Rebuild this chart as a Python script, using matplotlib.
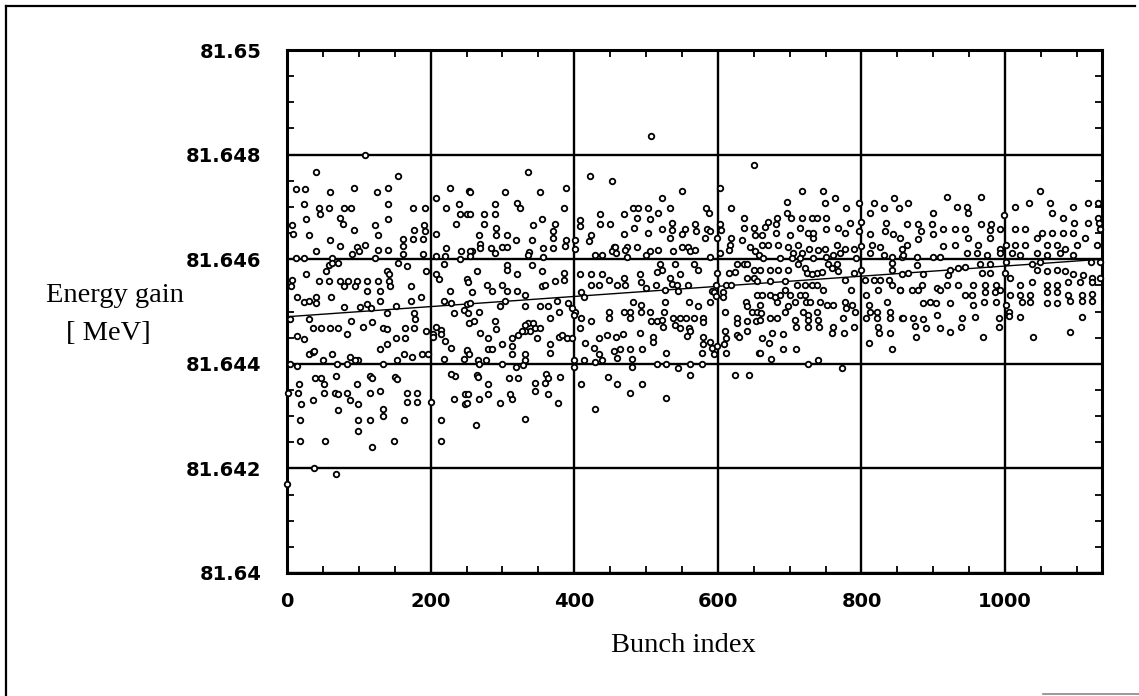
import numpy as np
import matplotlib
matplotlib.use("Agg")
import matplotlib.pyplot as plt
from matplotlib import font_manager
from matplotlib.lines import Line2D

# (bunch index, energy gain [MeV]), in five slices along x
pts_0_255 = [
    (0, 81.6417), (38, 81.6420), (68, 81.6419), (108, 81.6480),
    (40, 81.64767), (155, 81.6476), (13, 81.64735), (25, 81.64735), (60, 81.64728), (94, 81.64737),
    (126, 81.64729), (140, 81.64737), (23, 81.64705), (45, 81.64697), (58, 81.64697), (46, 81.64686),
    (79, 81.64697), (89, 81.64697), (140, 81.64705), (175, 81.64698), (192, 81.64697),
    (27, 81.64677), (7, 81.64665), (8, 81.64648), (31, 81.64647), (74, 81.64679), (78, 81.64668),
    (94, 81.64655), (122, 81.64665), (127, 81.64646), (140, 81.64677), (60, 81.64636), (74, 81.64625),
    (98, 81.64623), (108, 81.64627), (127, 81.64617), (140, 81.64617), (40, 81.64616),
    (177, 81.64655), (191, 81.64665), (192, 81.64654), (161, 81.64638), (175, 81.64638), (189, 81.64638),
    (161, 81.64625), (162, 81.64609), (90, 81.64609), (100, 81.64616), (13, 81.64602), (24, 81.64602),
    (62, 81.64602), (122, 81.64602), (189, 81.64609), (58, 81.64589), (62, 81.64592), (71, 81.64592),
    (55, 81.64578), (139, 81.64578), (142, 81.64572), (155, 81.64592), (167, 81.64587),
    (27, 81.64571), (45, 81.64559), (58, 81.64559), (74, 81.64559), (85, 81.64559), (97, 81.64559),
    (111, 81.64559), (127, 81.64559), (142, 81.64559), (7, 81.6456), (6, 81.64549), (79, 81.64549),
    (95, 81.64549), (111, 81.6454), (130, 81.6454), (143, 81.64549), (173, 81.64549), (193, 81.64578),
    (14, 81.64527), (23, 81.64519), (30, 81.6452), (40, 81.64527), (41, 81.64516), (61, 81.64527),
    (79, 81.64509), (111, 81.64514), (102, 81.64508), (117, 81.64506), (130, 81.64521), (139, 81.64498),
    (152, 81.64511), (172, 81.6452), (186, 81.64527), (177, 81.64498), (178, 81.64486),
    (4, 81.64486), (31, 81.64486), (36, 81.64469), (47, 81.64469), (60, 81.64469), (71, 81.64469),
    (84, 81.64457), (89, 81.64481), (106, 81.6447), (118, 81.6448), (134, 81.64469), (139, 81.64467),
    (152, 81.64449), (164, 81.64449), (164, 81.64469), (177, 81.64469), (14, 81.64454), (23, 81.64448),
    (194, 81.64463), (204, 81.64457), (208, 81.6447), (215, 81.64465), (139, 81.64438), (130, 81.64429),
    (30, 81.64419), (36, 81.64422), (37, 81.64425), (62, 81.64419), (50, 81.64408), (99, 81.64408),
    (88, 81.64413), (69, 81.644), (83, 81.64399), (95, 81.64408), (134, 81.64399), (153, 81.64408),
    (163, 81.64419), (174, 81.64413), (188, 81.64419), (196, 81.64419), (4, 81.644), (14, 81.64395),
    (39, 81.64373), (48, 81.64373), (51, 81.64362), (68, 81.64376), (116, 81.64376), (118, 81.64372),
    (151, 81.64375), (153, 81.6437), (17, 81.64362), (97, 81.64362), (2, 81.64344), (16, 81.64344),
    (19, 81.64324), (36, 81.64331), (52, 81.64344), (67, 81.64344), (71, 81.64343), (88, 81.6433),
    (84, 81.64345), (99, 81.64324), (116, 81.64344), (130, 81.64348), (71, 81.64312), (167, 81.64344),
    (167, 81.64327), (181, 81.64344), (181, 81.64327), (200, 81.64327), (18, 81.64293), (99, 81.64293),
    (116, 81.64293), (133, 81.64314), (133, 81.64301), (163, 81.64293), (99, 81.64272), (18, 81.64253),
    (53, 81.64253), (119, 81.64241), (149, 81.64253),
    (227, 81.64737), (253, 81.6473), (208, 81.64717), (221, 81.64698), (239, 81.64706), (241, 81.64686),
    (236, 81.64667), (250, 81.64686), (208, 81.64648), (222, 81.64622), (243, 81.64616), (208, 81.64606),
    (220, 81.64606), (218, 81.6459), (241, 81.646), (208, 81.64571), (211, 81.64562), (227, 81.6454),
    (250, 81.64562), (218, 81.64521), (229, 81.64517), (232, 81.64498), (246, 81.64502), (250, 81.64514),
    (204, 81.64451), (215, 81.64457), (220, 81.64444), (229, 81.6443), (246, 81.64409), (250, 81.64425),
    (218, 81.64409), (234, 81.64376), (229, 81.64381), (232, 81.64333), (248, 81.64343), (248, 81.64324),
    (215, 81.64293), (215, 81.64253),
]

pts_250_457 = [
    (335, 81.64767), (422, 81.64759), (452, 81.64749), (255, 81.64729), (303, 81.64729), (352, 81.64729),
    (388, 81.64737), (289, 81.64705), (321, 81.64707), (325, 81.64697), (386, 81.64697), (255, 81.64686),
    (274, 81.64686), (289, 81.64686), (355, 81.64677), (275, 81.64667), (291, 81.64659), (291, 81.64646),
    (342, 81.64665), (373, 81.64667), (370, 81.64654), (408, 81.64675), (408, 81.64664), (436, 81.64686),
    (450, 81.64667), (436, 81.64667), (267, 81.64646), (269, 81.6463), (258, 81.64615), (307, 81.64646),
    (319, 81.64637), (341, 81.64637), (370, 81.6464), (388, 81.64637), (401, 81.64637), (424, 81.64646),
    (421, 81.64634), (455, 81.64624), (269, 81.64622), (284, 81.64622), (300, 81.64624), (307, 81.64624),
    (289, 81.64611), (337, 81.64613), (356, 81.64622), (370, 81.64622), (387, 81.64626), (401, 81.6462),
    (335, 81.64608), (341, 81.64589), (357, 81.64605), (255, 81.64615), (255, 81.64606), (429, 81.64608),
    (438, 81.64608), (452, 81.64615), (307, 81.64589), (307, 81.6458), (321, 81.64571), (264, 81.64578),
    (355, 81.64578), (408, 81.64571), (423, 81.64571), (438, 81.64571), (449, 81.6456), (373, 81.64559),
    (386, 81.64573), (386, 81.6456), (424, 81.64551), (434, 81.64551), (252, 81.64557), (278, 81.64551),
    (285, 81.6454), (299, 81.64551), (306, 81.6454), (321, 81.6454), (258, 81.64538), (355, 81.64548),
    (359, 81.64551), (332, 81.64531), (410, 81.64538), (413, 81.64527), (255, 81.64516), (252, 81.64497),
    (267, 81.645), (297, 81.6451), (304, 81.6452), (332, 81.6451), (352, 81.6451), (364, 81.6451),
    (376, 81.6452), (379, 81.645), (392, 81.64516), (401, 81.645), (254, 81.64478), (260, 81.64481),
    (290, 81.64481), (291, 81.64467), (336, 81.64478), (343, 81.64478), (345, 81.64468), (352, 81.64468),
    (338, 81.64462), (331, 81.64463), (366, 81.64488), (397, 81.64507), (400, 81.64493), (410, 81.64488),
    (408, 81.64469), (424, 81.64481), (448, 81.645), (448, 81.64488), (269, 81.64459), (280, 81.6445),
    (300, 81.64437), (313, 81.6445), (313, 81.64434), (313, 81.64419), (322, 81.64456), (327, 81.64463),
    (332, 81.64475), (348, 81.6445), (366, 81.64437), (366, 81.6442), (379, 81.64451), (383, 81.64456),
    (390, 81.6445), (397, 81.6445), (415, 81.64439), (427, 81.64431), (434, 81.64449), (445, 81.64456),
    (435, 81.64418), (439, 81.64408), (455, 81.64424), (250, 81.64427), (253, 81.64418), (280, 81.64429),
    (285, 81.64429), (331, 81.64419), (332, 81.64408), (266, 81.64408), (277, 81.64408), (267, 81.644),
    (299, 81.644), (319, 81.64394), (328, 81.64398), (399, 81.64408), (399, 81.64393), (413, 81.64408),
    (429, 81.64404), (264, 81.64378), (266, 81.64375), (280, 81.64361), (309, 81.64373), (322, 81.64373),
    (346, 81.64363), (360, 81.6438), (364, 81.64373), (359, 81.64363), (346, 81.64348), (364, 81.64343),
    (380, 81.64375), (410, 81.64362), (447, 81.64375), (252, 81.64343), (250, 81.64325), (267, 81.64333),
    (280, 81.64343), (297, 81.64325), (314, 81.64333), (311, 81.64343), (378, 81.64325), (429, 81.64313),
    (331, 81.64294), (263, 81.64283),
]

pts_457_660 = [
    (507, 81.64836), (550, 81.6473), (603, 81.64737), (651, 81.6478), (522, 81.64717),
    (469, 81.64686), (482, 81.64698), (489, 81.64698), (503, 81.64698), (533, 81.64698), (584, 81.64698),
    (588, 81.64688), (618, 81.64698), (488, 81.64678), (505, 81.64677), (517, 81.64688), (636, 81.64678),
    (470, 81.64648), (483, 81.64659), (503, 81.6465), (522, 81.64658), (536, 81.64669), (536, 81.64656),
    (554, 81.64658), (568, 81.64667), (570, 81.64654), (585, 81.64658), (589, 81.64653), (603, 81.64667),
    (604, 81.64656), (636, 81.64659), (650, 81.64659), (652, 81.64646), (533, 81.6464), (550, 81.64648),
    (582, 81.6464), (599, 81.6464), (619, 81.6464), (617, 81.64627), (633, 81.64637), (457, 81.64624),
    (473, 81.64624), (488, 81.64624), (458, 81.64611), (471, 81.64618), (473, 81.64605), (500, 81.64608),
    (505, 81.64615), (517, 81.64618), (538, 81.64615), (550, 81.64624), (558, 81.64624), (561, 81.64615),
    (568, 81.64618), (589, 81.64605), (603, 81.64611), (615, 81.64618), (645, 81.64624), (652, 81.64615),
    (657, 81.64608), (520, 81.6459), (541, 81.6459), (522, 81.64579), (515, 81.64576), (567, 81.6459),
    (572, 81.6458), (626, 81.6459), (636, 81.6459), (640, 81.6459), (650, 81.6458), (615, 81.64573),
    (624, 81.64576), (459, 81.64551), (469, 81.64564), (471, 81.64551), (492, 81.64571), (493, 81.64557),
    (500, 81.64545), (514, 81.64551), (527, 81.64542), (534, 81.64564), (536, 81.64552), (543, 81.64551),
    (547, 81.64571), (558, 81.64551), (545, 81.6454), (599, 81.64573), (598, 81.64551), (612, 81.64551),
    (619, 81.64551), (640, 81.64564), (650, 81.64564), (592, 81.6454), (595, 81.64537), (607, 81.64537),
    (607, 81.64527), (589, 81.64519), (598, 81.64529), (654, 81.64532), (482, 81.64519), (493, 81.64513),
    (478, 81.645), (493, 81.645), (506, 81.645), (527, 81.64519), (525, 81.645), (560, 81.64519),
    (573, 81.6451), (610, 81.645), (639, 81.64519), (641, 81.6451), (647, 81.645), (654, 81.645),
    (469, 81.645), (478, 81.64488), (507, 81.64481), (515, 81.64481), (522, 81.64484), (524, 81.6447),
    (538, 81.64488), (547, 81.64488), (556, 81.64488), (567, 81.64488), (580, 81.64488), (580, 81.6448),
    (540, 81.64475), (547, 81.64469), (560, 81.64469), (557, 81.64453), (561, 81.64462), (626, 81.64488),
    (627, 81.64478), (641, 81.64481), (653, 81.64481), (626, 81.64456), (629, 81.64451), (640, 81.64462),
    (610, 81.64462), (612, 81.6445), (458, 81.64451), (468, 81.64457), (492, 81.64459), (510, 81.64451),
    (510, 81.64442), (580, 81.64451), (579, 81.64438), (589, 81.64442), (592, 81.6443), (599, 81.64434),
    (464, 81.64429), (478, 81.64429), (494, 81.64429), (528, 81.6442), (578, 81.6442), (594, 81.64419),
    (608, 81.64437), (612, 81.6442), (657, 81.6442), (459, 81.64411), (480, 81.6441), (480, 81.64394),
    (515, 81.644), (528, 81.644), (545, 81.64392), (561, 81.644), (578, 81.644), (561, 81.64378),
    (624, 81.64378), (643, 81.64378), (460, 81.64362), (494, 81.64362), (478, 81.64345), (528, 81.64334),
]

pts_660_860 = [
    (717, 81.6473), (747, 81.6473), (763, 81.64717), (749, 81.64707), (697, 81.64709), (778, 81.64698),
    (797, 81.64707), (812, 81.64688), (818, 81.64707), (832, 81.64698), (846, 81.64717), (852, 81.64698),
    (697, 81.64689), (702, 81.64679), (717, 81.64679), (731, 81.64679), (738, 81.64679), (750, 81.64679),
    (670, 81.64672), (683, 81.64678), (666, 81.64662), (681, 81.64667), (715, 81.64659), (726, 81.6465),
    (732, 81.6464), (733, 81.6465), (750, 81.64658), (768, 81.64659), (777, 81.6465), (784, 81.64669),
    (796, 81.64653), (800, 81.64672), (812, 81.64648), (833, 81.64653), (834, 81.64669), (844, 81.64648),
    (854, 81.6464), (661, 81.64646), (681, 81.6465), (701, 81.64646), (670, 81.64627), (684, 81.64627),
    (661, 81.64627), (698, 81.64624), (712, 81.64627), (727, 81.6462), (740, 81.64617), (749, 81.6462),
    (766, 81.64627), (777, 81.6462), (789, 81.6462), (800, 81.64625), (814, 81.64627), (826, 81.64624),
    (856, 81.6462), (705, 81.64611), (717, 81.64611), (750, 81.64605), (761, 81.64608), (770, 81.64611),
    (812, 81.64611), (831, 81.64608), (842, 81.64605), (856, 81.64605), (663, 81.64602), (687, 81.64602),
    (703, 81.64602), (714, 81.64603), (733, 81.64602), (793, 81.64602), (712, 81.6459), (722, 81.64583),
    (724, 81.64573), (738, 81.64573), (754, 81.6459), (766, 81.6459), (767, 81.64577), (759, 81.64583),
    (673, 81.6458), (684, 81.6458), (698, 81.6458), (659, 81.6458), (731, 81.64571), (745, 81.64576),
    (842, 81.64592), (843, 81.6458), (856, 81.64571), (777, 81.6456), (789, 81.64573), (800, 81.6458),
    (805, 81.6456), (817, 81.6456), (826, 81.6456), (838, 81.6456), (694, 81.64559), (710, 81.64551),
    (722, 81.64551), (731, 81.64551), (738, 81.64551), (654, 81.64559), (673, 81.64559), (694, 81.64542),
    (747, 81.64542), (786, 81.64542), (823, 81.64542), (842, 81.64551), (854, 81.64542), (661, 81.64532),
    (673, 81.64532), (687, 81.64532), (701, 81.64532), (714, 81.64532), (722, 81.64532), (682, 81.64519),
    (680, 81.64527), (698, 81.6451), (708, 81.64519), (723, 81.64519), (728, 81.64519), (742, 81.64519),
    (752, 81.64513), (761, 81.64513), (777, 81.64519), (778, 81.64507), (787, 81.64513), (791, 81.645),
    (807, 81.64532), (810, 81.64513), (812, 81.645), (835, 81.64519), (840, 81.645), (659, 81.64513),
    (660, 81.64497), (659, 81.64484), (673, 81.64488), (683, 81.64488), (694, 81.645), (719, 81.645),
    (726, 81.64494), (738, 81.645), (775, 81.64488), (807, 81.64488), (821, 81.645), (822, 81.64488),
    (840, 81.64488), (856, 81.64488), (708, 81.64483), (709, 81.6447), (725, 81.64483), (726, 81.6447),
    (740, 81.64483), (741, 81.6447), (761, 81.6447), (759, 81.64459), (776, 81.64459), (789, 81.6447),
    (823, 81.6447), (824, 81.64459), (840, 81.64459), (661, 81.64449), (675, 81.64459), (671, 81.6444),
    (691, 81.64457), (659, 81.64421), (674, 81.6441), (691, 81.64429), (709, 81.64429), (810, 81.6444),
    (842, 81.64429), (725, 81.644), (739, 81.64408), (773, 81.64392),
]

pts_860_1135 = [
    (1048, 81.64731), (919, 81.64718), (966, 81.64718), (865, 81.64707), (1034, 81.64707), (1062, 81.64707),
    (1116, 81.64707), (933, 81.64699), (947, 81.64699), (948, 81.64688), (1014, 81.64699), (1095, 81.64699),
    (899, 81.64688), (999, 81.64685), (1065, 81.64688), (1080, 81.64678), (1130, 81.64707), (1129, 81.64678),
    (864, 81.64668), (879, 81.64668), (898, 81.64668), (966, 81.64668), (980, 81.64668), (1096, 81.6467),
    (1116, 81.6467), (1131, 81.6467), (914, 81.64658), (930, 81.64658), (944, 81.64658), (979, 81.64656),
    (993, 81.64658), (1014, 81.64658), (1028, 81.64658), (1051, 81.64651), (1066, 81.64651), (1080, 81.64651),
    (1095, 81.64651), (1132, 81.64658), (863, 81.64627), (879, 81.64639), (883, 81.64653), (900, 81.64649),
    (914, 81.64625), (930, 81.64627), (949, 81.6464), (963, 81.64627), (979, 81.6464), (993, 81.6462),
    (1002, 81.64627), (1014, 81.64627), (1028, 81.64627), (1044, 81.6464), (1058, 81.64627), (1072, 81.64627),
    (1084, 81.6462), (1100, 81.64627), (1111, 81.6464), (1128, 81.64627), (858, 81.64608), (877, 81.64605),
    (900, 81.64605), (910, 81.64605), (947, 81.64611), (961, 81.64611), (975, 81.64608), (993, 81.64611),
    (1009, 81.64611), (1021, 81.64608), (1044, 81.64611), (1058, 81.64608), (1077, 81.64611), (1095, 81.64608),
    (877, 81.64589), (924, 81.6458), (935, 81.64583), (944, 81.64586), (965, 81.6459), (979, 81.6459),
    (1002, 81.64594), (1037, 81.6459), (1049, 81.64594), (1119, 81.64594), (1132, 81.64594), (865, 81.64573),
    (886, 81.64571), (921, 81.6457), (968, 81.64573), (979, 81.64573), (1000, 81.64573), (1044, 81.6458),
    (1058, 81.64577), (1072, 81.6458), (1084, 81.64577), (1095, 81.64571), (1109, 81.6457), (1121, 81.64564),
    (1132, 81.64564), (884, 81.64551), (905, 81.64545), (919, 81.64551), (935, 81.64551), (955, 81.64551),
    (972, 81.64551), (988, 81.64551), (1007, 81.64564), (1021, 81.64551), (1037, 81.64557), (1058, 81.64551),
    (1072, 81.64551), (1088, 81.64557), (1105, 81.64557), (1121, 81.64557), (854, 81.64542), (870, 81.64542),
    (879, 81.64542), (910, 81.64542), (944, 81.64532), (954, 81.64532), (972, 81.64538), (986, 81.64538),
    (993, 81.64542), (1007, 81.64532), (1021, 81.64532), (1035, 81.64532), (1058, 81.64538), (1072, 81.64538),
    (1088, 81.64532), (1107, 81.64532), (1121, 81.64533), (886, 81.64516), (896, 81.64519), (904, 81.64516),
    (923, 81.64516), (955, 81.64513), (970, 81.64519), (988, 81.64519), (1002, 81.64513), (1023, 81.64519),
    (1035, 81.64519), (1058, 81.64516), (1072, 81.64516), (1090, 81.6452), (1107, 81.6452), (1121, 81.6452),
    (858, 81.64488), (872, 81.64488), (886, 81.64485), (905, 81.64494), (940, 81.64488), (958, 81.6449),
    (991, 81.64488), (1005, 81.645), (1006, 81.64491), (1021, 81.64489), (1107, 81.64489), (875, 81.64472),
    (890, 81.64469), (909, 81.64469), (876, 81.64452), (923, 81.6446), (939, 81.6447), (991, 81.6447),
    (969, 81.64452), (1039, 81.64452), (1090, 81.6446),
]

# straight trend line drawn through the cloud
trend_idx = [0, 1135]
trend_gain = [81.6449, 81.6460]

x_ticks = [0, 200, 400, 600, 800, 1000]
y_ticks = [81.64, 81.642, 81.644, 81.646, 81.648, 81.65]
y_tick_labels = ["81.64", "81.642", "81.644", "81.646", "81.648", "81.65"]

W, H = 1139, 696

_names = {f.name for f in font_manager.fontManager.ttflist}
if "Liberation Sans Narrow" in _names:
    tick_font = dict(family="Liberation Sans Narrow", weight="bold", size=19)
else:
    tick_font = dict(family="DejaVu Sans", weight="bold", size=14)
serif = "Liberation Serif" if "Liberation Serif" in _names else "DejaVu Serif"

fig = plt.figure(figsize=(W / 100, H / 100), dpi=100)
ax = fig.add_axes([287 / W, 1 - 573 / H, (1102 - 287) / W, (573 - 50) / H])

pts = np.array(pts_0_255 + pts_250_457 + pts_457_660 + pts_660_860 + pts_860_1135)
ax.plot(trend_idx, trend_gain, color="black", lw=1.0, zorder=3)
ax.plot(pts[:, 0], pts[:, 1], ls="none", marker="o", ms=4, mew=1.3,
        mfc="white", mec="black", zorder=4, clip_on=False)

ax.set_xlim(0, 1135)
ax.set_ylim(81.64, 81.65)
ax.set_xticks(x_ticks)
ax.set_yticks(y_ticks)
ax.set_yticklabels(y_tick_labels)
ax.set_xticks(np.arange(50, 1135, 50), minor=True)
ax.set_yticks(np.arange(81.6405, 81.65, 0.0005), minor=True)

ax.grid(True, which="major", color="black", lw=1.7)
ax.set_axisbelow(True)
for s in ax.spines.values():
    s.set_linewidth(2.2)

ax.tick_params(which="major", length=0, pad=13.5)
ax.tick_params(axis="y", which="major", pad=18.5)
ax.tick_params(which="minor", direction="in", length=5, width=1.3,
               top=True, right=True, bottom=True, left=True)
for lab in ax.get_xticklabels() + ax.get_yticklabels():
    lab.set_fontfamily(tick_font["family"])
    lab.set_fontweight(tick_font["weight"])
    lab.set_fontsize(tick_font["size"])

fig.text(115 / W, 1 - 302 / H, "Energy gain", family=serif, size=20.5,
         ha="center", va="baseline")
fig.text(108 / W, 1 - 340 / H, "[ MeV]", family=serif, size=20.5,
         ha="center", va="baseline")
fig.text(683 / W, 1 - 652 / H, "Bunch index", family=serif, size=20.5,
         ha="center", va="baseline")

# scanned frame around the figure
fig.add_artist(Line2D([6 / W, 1135 / W], [1 - 6 / H, 1 - 6 / H], color="black", lw=1.6))
fig.add_artist(Line2D([6 / W, 6 / W], [1 - 6 / H, 0], color="black", lw=1.6))
fig.add_artist(Line2D([1043 / W, 1], [1 - 694 / H, 1 - 694 / H], color="#888888", lw=1.2))

fig.savefig("out.png", dpi=100)
